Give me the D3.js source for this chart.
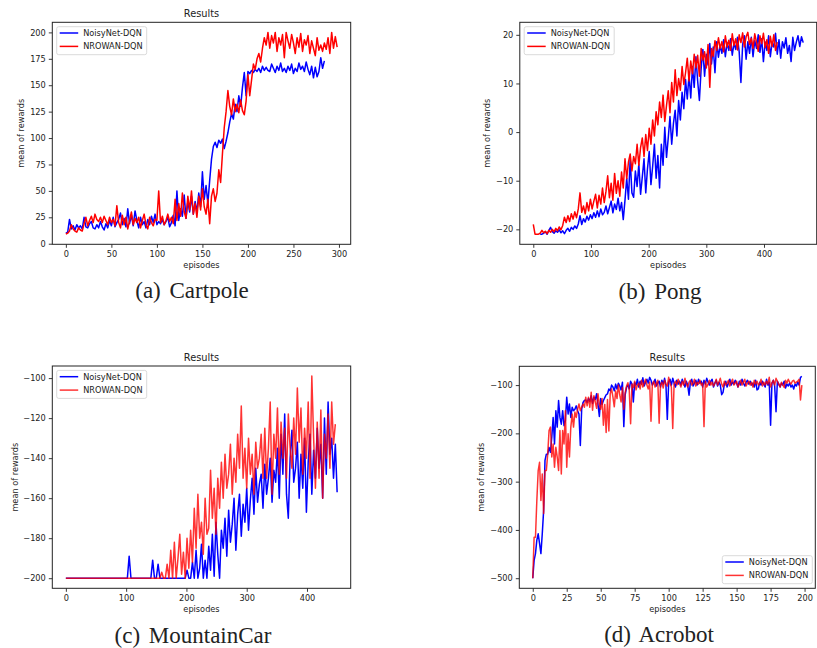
<!DOCTYPE html>
<html>
<head>
<meta charset="utf-8">
<script src="https://cdn.jsdelivr.net/npm/d3@7"></script>
<style>
  body { margin: 0; background: #fff; }
  svg { display: block; }
  text { font-family: "DejaVu Sans", sans-serif; fill: #222; }
  .caption { font-family: "Liberation Serif", "DejaVu Serif", serif; }
</style>
</head>
<body>
<svg id="fig" width="817" height="648"></svg>
<script>
// ---------------- data ----------------
const seriesNames = ["NoisyNet-DQN", "NROWAN-DQN"];
const panelTitle = "Results";
const xLabel = "episodes";
const yLabel = "mean of rewards";
const captions = ["(a) Cartpole", "(b) Pong", "(c) MountainCar", "(d) Acrobot"];

// Cartpole: mean reward, recorded every 2 episodes starting at episode 0
const cartpoleStep = 2;
const cartpoleNoisy = [
  10, 11, 23, 14, 17, 13, 18, 15, 17, 14,
  25, 16, 15, 19, 21, 15, 14, 18, 15, 21,
  16, 13, 19, 15, 22, 17, 25, 16, 20, 23,
  29, 18, 24, 16, 33, 19, 27, 17, 31, 22,
  15, 25, 18, 21, 15, 23, 18, 26, 20, 28,
  18, 21, 19, 23, 18, 21, 25, 16, 20, 27,
  17, 50, 22, 33, 26, 46, 24, 40, 30, 45,
  28, 40, 30, 48, 35, 68, 42, 55, 38, 60,
  80, 92, 96, 91, 98, 95, 99, 90, 97, 105,
  115, 123, 118, 132, 125, 140, 130, 148, 162, 140,
  163, 161, 164, 162, 165, 163, 166, 162, 168, 164,
  167, 164, 163, 170, 166, 162, 168, 164, 171, 163,
  166, 162, 168, 164, 170, 161, 166, 163, 171, 165,
  168, 163, 172, 165, 160, 168, 157, 167, 158, 163,
  176, 166, 173
];
const cartpoleNrowan = [
  9, 10, 12, 18, 14, 12, 11, 15, 13, 12,
  19, 25, 17, 22, 26, 20, 28, 23, 21, 25,
  20, 26, 22, 18, 25, 20, 23, 17, 36, 20,
  15, 27, 18, 25, 14, 22, 30, 18, 24, 20,
  25, 15, 22, 28, 18, 14, 25, 20, 17, 23,
  22, 50, 20, 26, 18, 22, 28, 21, 25, 19,
  42, 22, 38, 26, 48, 30, 24, 45, 32, 50,
  28, 38, 25, 45, 32, 52, 35, 28, 42, 19,
  45, 52, 40, 48, 70, 58, 85, 110, 125, 145,
  130, 122, 137, 125, 132, 124, 136, 126, 122, 135,
  160, 140, 155, 170, 165, 175, 180, 172, 185, 195,
  188, 200, 185, 197, 190, 200, 182, 195, 188, 198,
  176, 200, 192, 185, 198, 190, 180, 195, 186, 199,
  182, 193, 188, 197, 180, 192, 185, 178, 195, 183,
  188, 182, 190, 184, 195, 180, 200, 185, 196, 186
];

// Pong: recorded every 3 episodes; NoisyNet log begins at episode 12
const pongStep = 3;
const pongNoisyStart = 12;
const pongNoisy = [
  -21, -21, -20.8, -20.5, -21, -20.2, -19.6, -20.5, -20.8, -20.3,
  -20.6, -20.1, -20.7, -20.3, -20.9, -20.2, -19.8, -20.4, -19.6, -20,
  -19.3, -19.8, -18.9, -17.2, -19, -17.8, -18.5, -17.3, -18.1, -17,
  -17.8, -16.6, -17.5, -16.2, -17.4, -15.8, -17, -16.5, -15.2, -16.8,
  -15.5, -14.2, -16.6, -14.8, -15.9, -13.6, -16.2, -14.5, -18, -14,
  -9.5, -13.8, -5.5, -12.5, -13.4, -8, -11.2, -6.5, -12.8, -9.2,
  -5.5, -12.5, -7.5, -4, -10.8, -7, -2.5, -9.5, -4.8, -11.5,
  -2.5, -6.8, 1, -5.2, -1.2, 3.2, -2.5, 1.8, 4.5, -0.8,
  6.5, 2.5, 8.2, 4.8, 10.8, 6.8, 11.8, 7, 13.5, 9.2,
  15.5, 10.5, 6.5, 13, 17, 11.5, 16, 13.8, 18.2, 14,
  17.5, 12.2, 18.6, 15.4, 17.8, 16.2, 19, 15.5, 18.4, 16.8,
  19.2, 15.8, 18.3, 17, 19.5, 16.5, 10.2, 18, 19.8, 15,
  18.6, 16.2, 19.5, 15.5, 18.8, 17.2, 20, 16.4, 19.2, 14.5,
  18.5, 16.8, 19.8, 15.5, 18.4, 17.5, 20.3, 16, 19, 15.2,
  18.6, 17.3, 19.4, 16.2, 17.8, 14.5, 19.5, 16.8, 18.5, 19.8,
  17.6, 19.6, 18.4
];
const pongNrowanStart = 0;
const pongNrowan = [
  -19, -21, -21, -21, -20.8, -20.2, -20.7, -20.4, -20.9, -20.2,
  -20.6, -20, -20.5, -19.8, -20.3, -19.5, -20.1, -19.2, -17.5, -18.6,
  -17.2, -18.4, -16.8, -17.9, -16.4, -17.6, -15.8, -12.5, -16.5, -15.2,
  -16.8, -14.5, -16.2, -13.8, -15.8, -14.2, -12.8, -15.6, -13, -14.8,
  -11.5, -14.5, -12.2, -9, -13.5, -10.5, -14, -8.5, -12.6, -10,
  -13.2, -8.2, -11.5, -5.5, -9.6, -6.2, -4.5, -8, -5, -6.5,
  -2.5, -6.8, -3.2, -1.2, -5, -0.5, -3.8, 0.8, -2.5, 2.5,
  -0.8, 4.2, 1.5, 6.2, 3, 7.6, 2.2, 5.5, 8.5, 4,
  10.2, 6.2, 12.8, 7.5, 11, 8.6, 13.5, 9.8, 12.2, 15.2,
  10.5, 14.6, 12, 16, 13.2, 15.8, 11.5, 17.2, 14.8, 16.5,
  13.2, 18, 9.2, 17.2, 15.6, 18.8, 16.8, 19.4, 17.2, 18.6,
  16.5, 19.8, 17.5, 18.9, 16.8, 20.2, 17.8, 19.2, 16.9, 20,
  18.4, 20.4, 17.5, 19.6, 20.5, 18, 19.3, 17.2, 20.2, 18.5,
  16.6, 19.8, 18.2, 20.3, 17.4, 19, 16.2, 19.7, 17.6, 20,
  16.8, 18.5
];

// MountainCar: recorded every 3 episodes starting at episode 0
const mountainStep = 3;
const mountainNoisy = [
  -200, -200, -200, -200, -200, -200, -200, -200, -200, -200,
  -200, -200, -200, -200, -200, -200, -200, -200, -200, -200,
  -200, -200, -200, -200, -200, -200, -200, -200, -200, -200,
  -200, -200, -200, -200, -200, -189, -200, -200, -200, -200,
  -200, -200, -200, -200, -200, -200, -200, -200, -191, -200,
  -200, -193, -200, -200, -200, -200, -200, -200, -200, -200,
  -200, -200, -200, -200, -200, -200, -200, -196, -200, -200,
  -192, -200, -186, -200, -195, -183, -200, -191, -200, -184,
  -196, -178, -199, -172, -188, -200, -176, -185, -170, -189,
  -166, -182, -173, -160, -186, -168, -158, -179, -163, -172,
  -155, -176, -161, -150, -168, -145, -162, -153, -148, -165,
  -143, -158, -150, -140, -162, -146, -152, -135, -160, -128,
  -148, -118, -158, -170, -140, -126, -152, -145, -132, -160,
  -138, -155, -130, -167, -142, -128, -158, -136, -150, -125,
  -145, -133, -160, -120, -148, -112, -138, -130, -150, -133,
  -157
];
const mountainNrowan = [
  -200, -200, -200, -200, -200, -200, -200, -200, -200, -200,
  -200, -200, -200, -200, -200, -200, -200, -200, -200, -200,
  -200, -200, -200, -200, -200, -200, -200, -200, -200, -200,
  -200, -200, -200, -200, -200, -200, -200, -200, -200, -200,
  -200, -200, -200, -200, -200, -200, -200, -200, -200, -200,
  -200, -200, -200, -197, -200, -200, -193, -200, -186, -200,
  -182, -200, -190, -178, -198, -187, -200, -180, -195, -176,
  -192, -165, -185, -158, -180, -172, -188, -160, -178, -175,
  -146, -170, -155, -178, -150, -165, -142, -160, -138, -155,
  -148, -133, -158, -140, -152, -128, -145, -114, -150, -135,
  -155, -130, -148, -138, -158, -132, -145, -140, -128, -150,
  -125, -150, -135, -112, -158, -128, -140, -115, -148, -122,
  -140, -125, -150, -118, -135, -145, -120, -138, -105, -132,
  -115, -148, -125, -140, -112, -150, -99, -130, -155, -122,
  -150, -116, -160, -128, -140, -118, -145, -112, -133, -123
];

// Acrobot: one value per episode starting at episode 0
const acrobotStep = 1;
const acrobotNoisy = [
  -500, -463, -449, -421, -408, -428, -449, -408, -360, -256,
  -243, -243, -229, -239, -208, -167, -222, -153, -187, -132,
  -167, -181, -153, -184, -174, -125, -160, -139, -167, -146,
  -153, -150, -143, -153, -160, -225, -150, -136, -132, -131,
  -136, -128, -134, -122, -138, -125, -130, -118, -140, -165,
  -128, -140, -132, -126, -120, -118, -108, -112, -100, -104,
  -112, -98, -108, -96, -102, -110, -94, -186, -120, -105,
  -100, -108, -92, -98, -135, -95, -100, -88, -104, -92,
  -98, -85, -102, -94, -88, -96, -84, -90, -100, -95,
  -88, -102, -96, -92, -104, -90, -98, -86, -100, -171,
  -94, -88, -100, -86, -96, -104, -90, -98, -92, -100,
  -88, -96, -104, -92, -100, -121, -94, -88, -102, -96,
  -90, -100, -88, -96, -92, -104, -90, -98, -86, -94,
  -100, -92, -88, -104, -96, -90, -102, -94, -100, -120,
  -115, -98, -92, -104, -96, -88, -100, -94, -98, -90,
  -96, -104, -92, -100, -88, -96, -102, -94, -90, -98,
  -92, -100, -96, -104, -90, -110, -108, -94, -100, -92,
  -98, -104, -88, -100, -94, -183, -96, -90, -102, -155,
  -92, -98, -104, -96, -100, -92, -106, -98, -102, -96,
  -104, -100, -108, -98, -102, -94, -100, -84, -82
];
const acrobotNrowan = [
  -500, -415, -415, -339, -277, -260, -339, -284, -366, -277,
  -277, -243, -194, -187, -249, -222, -270, -229, -249, -277,
  -194, -284, -194, -222, -153, -270, -201, -249, -187, -160,
  -187, -156, -167, -150, -139, -153, -146, -139, -146, -125,
  -143, -125, -146, -115, -152, -122, -135, -148, -118, -140,
  -150, -128, -183, -140, -198, -130, -195, -118, -108, -125,
  -145, -112, -128, -100, -120, -135, -105, -150, -115, -102,
  -95, -110, -180, -98, -105, -92, -110, -100, -96, -108,
  -90, -104, -96, -88, -100, -108, -94, -175, -98, -92,
  -104, -96, -90, -179, -100, -94, -106, -90, -98, -102,
  -84, -96, -104, -190, -98, -92, -100, -88, -96, -104,
  -92, -100, -86, -98, -104, -94, -90, -100, -96, -88,
  -102, -94, -98, -90, -100, -96, -186, -92, -104, -98,
  -90, -100, -94, -102, -96, -88, -100, -94, -86, -98,
  -104, -92, -100, -96, -90, -102, -94, -88, -100, -96,
  -92, -104, -98, -90, -100, -94, -88, -102, -96, -92,
  -100, -94, -104, -90, -98, -92, -100, -96, -88, -102,
  -94, -100, -92, -98, -84, -104, -96, -90, -100, -86,
  -92, -98, -104, -94, -100, -105, -90, -96, -88, -94,
  -98, -92, -90, -96, -94, -92, -88, -131, -100
];

// tick values
const cartpoleXTicks = [0, 50, 100, 150, 200, 250, 300];
const cartpoleYTicks = [0, 25, 50, 75, 100, 125, 150, 175, 200];
const pongXTicks = [0, 100, 200, 300, 400];
const pongYTicks = [-20, -10, 0, 10, 20];
const mountainXTicks = [0, 100, 200, 300, 400];
const mountainYTicks = [-200, -180, -160, -140, -120, -100];
const acrobotXTicks = [0, 25, 50, 75, 100, 125, 150, 175, 200];
const acrobotYTicks = [-500, -400, -300, -200, -100];

// ---------------- drawing ----------------
const svg = d3.select("#fig");
const colors = ["#0000ff", "#ff0000"];

function toPoints(values, start, step) {
  return values.map((v, i) => [start + i * step, v]);
}

// matplotlib-style 5% padding around the data extent
function paddedExtent(vals) {
  const [lo, hi] = d3.extent(vals);
  const m = (hi - lo) * 0.05;
  return [lo - m, hi + m];
}

function drawPanel(p) {
  const allPts = p.series.flatMap(s => s.points);
  const x = d3.scaleLinear().domain(paddedExtent(allPts.map(d => d[0])))
    .range([p.box.left, p.box.right]);
  const y = d3.scaleLinear().domain(paddedExtent(allPts.map(d => d[1])))
    .range([p.box.bottom, p.box.top]);

  const g = svg.append("g");

  // data lines (clipped to axes area)
  const clipId = "clip" + p.id;
  svg.append("clipPath").attr("id", clipId).append("rect")
    .attr("x", p.box.left).attr("y", p.box.top)
    .attr("width", p.box.right - p.box.left).attr("height", p.box.bottom - p.box.top);
  const line = d3.line().x(d => x(d[0])).y(d => y(d[1]));
  const lines = g.append("g").attr("clip-path", `url(#${clipId})`);
  p.series.forEach((s, i) => {
    lines.append("path").attr("d", line(s.points))
      .attr("fill", "none").attr("stroke", colors[i])
      .attr("stroke-opacity", i === 1 ? p.redAlpha : 1)
      .attr("stroke-width", 1.5).attr("stroke-linejoin", "round");
  });

  // axes
  const fmt = d3.format("d");
  const xAxis = g.append("g").attr("transform", `translate(0,${p.box.bottom})`)
    .call(d3.axisBottom(x).tickValues(p.xTicks).tickFormat(fmt).tickSize(3.5).tickPadding(3).tickSizeOuter(0));
  const yAxis = g.append("g").attr("transform", `translate(${p.box.left},0)`)
    .call(d3.axisLeft(y).tickValues(p.yTicks).tickFormat(fmt).tickSize(3.5).tickPadding(3).tickSizeOuter(0));
  [xAxis, yAxis].forEach(a => {
    a.select(".domain").remove();
    a.selectAll("line").attr("stroke", "#222").attr("stroke-width", 0.9);
    a.selectAll("text").attr("font-size", 8.2).attr("fill", "#222")
      .attr("font-family", "DejaVu Sans, sans-serif");
  });

  // frame
  g.append("rect").attr("x", p.box.left).attr("y", p.box.top)
    .attr("width", p.box.right - p.box.left).attr("height", p.box.bottom - p.box.top)
    .attr("fill", "none").attr("stroke", "#222").attr("stroke-width", 1);

  // titles & labels
  const cx = (p.box.left + p.box.right) / 2;
  const cy = (p.box.top + p.box.bottom) / 2;
  if (p.title) {
    g.append("text").attr("x", cx).attr("y", p.box.top - 5.5)
      .attr("text-anchor", "middle").attr("font-size", 9.8).text(p.title);
  }
  g.append("text").attr("x", cx).attr("y", p.box.bottom + 23.5)
    .attr("text-anchor", "middle").attr("font-size", 8.2).text(xLabel);
  g.append("text")
    .attr("transform", `translate(${p.yLabelX},${cy}) rotate(-90)`)
    .attr("text-anchor", "middle").attr("dominant-baseline", "central")
    .attr("font-size", 8.2).text(yLabel);

  // legend
  const lw = 90, lh = 28;
  const lx = p.legend === "lower right" ? p.box.right - 3 - lw : p.box.left + 4.4;
  const ly = p.legend === "lower right" ? p.box.bottom - 4.6 - lh : p.box.top + 4.4;
  const lg = g.append("g").attr("transform", `translate(${lx},${ly})`);
  lg.append("rect").attr("width", lw).attr("height", lh).attr("rx", 2)
    .attr("fill", "#fff").attr("fill-opacity", 0.8)
    .attr("stroke", "#d0d0d0").attr("stroke-width", 0.8);
  seriesNames.forEach((name, i) => {
    const ry = 6.3 + i * 13.4;
    lg.append("line").attr("x1", 3).attr("x2", 21.5).attr("y1", ry).attr("y2", ry)
      .attr("stroke", colors[i]).attr("stroke-width", 1.5)
      .attr("stroke-opacity", i === 1 ? p.redAlpha : 1);
    lg.append("text").attr("x", 26.5).attr("y", ry).attr("dominant-baseline", "central")
      .attr("font-size", 8.2).text(name);
  });

  // caption below the panel
  svg.append("text").attr("class", "caption")
    .attr("x", p.captionX).attr("y", p.captionY)
    .attr("text-anchor", "middle").attr("font-size", 23)
    .attr("word-spacing", 3)
    .attr("fill", "#111").text(p.caption);
}

const panels = [
  {
    id: "a", title: panelTitle, caption: captions[0],
    box: { left: 52.3, right: 350.7, top: 22.3, bottom: 244.3 },
    series: [toPoints(cartpoleNoisy, 0, cartpoleStep), toPoints(cartpoleNrowan, 0, cartpoleStep)].map(points => ({ points })),
    xTicks: cartpoleXTicks, yTicks: cartpoleYTicks,
    yLabelX: 21, legend: "upper left", redAlpha: 1,
    captionX: 192, captionY: 298
  },
  {
    id: "b", title: null, caption: captions[1],
    box: { left: 519.8, right: 816.7, top: 22.3, bottom: 244.3 },
    series: [toPoints(pongNoisy, pongNoisyStart, pongStep), toPoints(pongNrowan, pongNrowanStart, pongStep)].map(points => ({ points })),
    xTicks: pongXTicks, yTicks: pongYTicks,
    yLabelX: 487, legend: "upper left", redAlpha: 1,
    captionX: 660, captionY: 299
  },
  {
    id: "c", title: panelTitle, caption: captions[2],
    box: { left: 52.3, right: 350.7, top: 366, bottom: 588.3 },
    series: [toPoints(mountainNoisy, 0, mountainStep), toPoints(mountainNrowan, 0, mountainStep)].map(points => ({ points })),
    xTicks: mountainXTicks, yTicks: mountainYTicks,
    yLabelX: 15, legend: "upper left", redAlpha: 0.8,
    captionX: 193, captionY: 643
  },
  {
    id: "d", title: panelTitle, caption: captions[3],
    box: { left: 519.3, right: 815.3, top: 366.3, bottom: 588.3 },
    series: [toPoints(acrobotNoisy, 0, acrobotStep), toPoints(acrobotNrowan, 0, acrobotStep)].map(points => ({ points })),
    xTicks: acrobotXTicks, yTicks: acrobotYTicks,
    yLabelX: 481, legend: "lower right", redAlpha: 0.8,
    captionX: 659, captionY: 642
  }
];

panels.forEach(drawPanel);
</script>
</body>
</html>
